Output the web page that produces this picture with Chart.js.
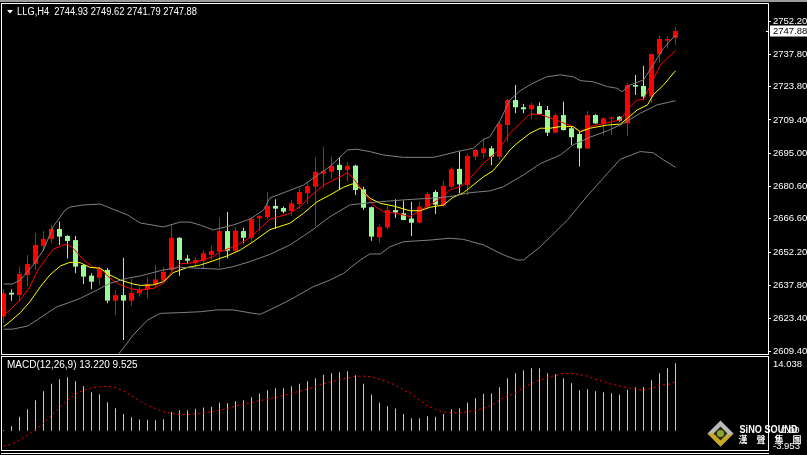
<!DOCTYPE html>
<html>
<head>
<meta charset="utf-8">
<script src="https://cdn.jsdelivr.net/npm/chart.js@4.4.1/dist/chart.umd.min.js"></script>
<style>
  html, body { margin: 0; padding: 0; background: #000; overflow: hidden; }
  #wrap { position: relative; width: 807px; height: 455px; background: #000; }
  canvas { position: absolute; left: 0; }
  #main { top: 0; }
  #macd { top: 355px; }
</style>
</head>
<body>
<div id="wrap">
  <canvas id="main" width="807" height="355"></canvas>
  <canvas id="macd" width="807" height="100"></canvas>
</div>
<script>
// LLG,H4 candles
const opens = [2624.3, 2634.6, 2633.6, 2642.3, 2647.1, 2654.9, 2657.9, 2662.2, 2659.2, 2657.4, 2646.6, 2642.0, 2641.1, 2644.5, 2631.2, 2633.6, 2631.2, 2634.4, 2636.1, 2638.0, 2639.8, 2644.5, 2658.4, 2649.4, 2647.4, 2648.5, 2651.0, 2652.4, 2661.3, 2652.8, 2661.3, 2658.4, 2666.8, 2667.3, 2672.2, 2671.3, 2670.0, 2673.0, 2677.7, 2680.5, 2686.1, 2687.0, 2690.0, 2687.7, 2689.6, 2679.4, 2671.6, 2658.6, 2662.9, 2670.4, 2669.0, 2666.7, 2664.9, 2671.9, 2678.2, 2672.2, 2680.5, 2688.2, 2681.2, 2693.5, 2695.0, 2697.1, 2693.5, 2707.2, 2718.0, 2714.9, 2714.0, 2715.4, 2713.7, 2703.9, 2711.5, 2705.8, 2703.3, 2697.0, 2711.5, 2707.6, 2710.0, 2710.8, 2707.9, 2724.5, 2724.1, 2719.5, 2737.8, 2743.7, 2744.93];
const highs = [2636.1, 2636.1, 2645.9, 2651.0, 2660.5, 2661.3, 2663.9, 2665.4, 2659.5, 2659.2, 2646.8, 2643.0, 2645.9, 2645.2, 2635.8, 2649.8, 2640.6, 2637.2, 2641.1, 2646.6, 2645.9, 2664.4, 2658.6, 2651.0, 2650.2, 2653.1, 2654.9, 2667.3, 2669.6, 2662.9, 2662.9, 2667.3, 2668.3, 2678.2, 2675.1, 2671.9, 2674.8, 2679.8, 2682.5, 2693.2, 2697.8, 2693.5, 2693.2, 2691.1, 2690.0, 2680.5, 2671.9, 2664.2, 2672.2, 2675.1, 2674.5, 2674.0, 2674.0, 2678.3, 2679.1, 2683.0, 2688.9, 2695.7, 2695.0, 2696.8, 2701.4, 2698.1, 2708.5, 2718.5, 2724.5, 2716.3, 2716.9, 2717.0, 2715.4, 2712.3, 2717.3, 2706.5, 2704.3, 2713.3, 2711.8, 2710.5, 2710.8, 2711.1, 2725.3, 2728.8, 2732.7, 2738.2, 2745.8, 2745.4, 2749.62];
const lows = [2621.4, 2631.1, 2630.7, 2637.5, 2644.5, 2652.7, 2656.1, 2655.3, 2649.4, 2643.0, 2638.4, 2636.1, 2638.0, 2630.1, 2625.0, 2614.2, 2629.0, 2632.9, 2632.2, 2637.2, 2639.4, 2643.7, 2642.0, 2647.1, 2645.9, 2644.8, 2648.8, 2645.6, 2649.5, 2652.4, 2656.0, 2656.7, 2661.3, 2666.4, 2662.3, 2669.0, 2667.8, 2671.0, 2673.0, 2663.5, 2679.8, 2684.1, 2679.4, 2682.7, 2676.9, 2670.4, 2657.1, 2656.3, 2662.1, 2667.0, 2666.0, 2659.2, 2664.7, 2671.2, 2668.7, 2671.6, 2679.8, 2677.7, 2676.8, 2692.1, 2692.8, 2689.8, 2692.1, 2700.0, 2712.3, 2712.3, 2709.7, 2711.5, 2702.4, 2703.6, 2704.8, 2698.6, 2689.2, 2696.8, 2707.6, 2702.9, 2702.9, 2708.6, 2702.4, 2720.2, 2718.0, 2716.6, 2734.2, 2740.4, 2741.79];
const closes = [2634.4, 2633.8, 2642.7, 2647.1, 2655.3, 2657.9, 2662.2, 2658.9, 2657.0, 2645.9, 2641.6, 2639.4, 2644.8, 2631.2, 2633.6, 2631.2, 2634.6, 2635.8, 2638.4, 2640.4, 2643.7, 2658.4, 2648.8, 2648.5, 2648.8, 2651.7, 2652.7, 2661.3, 2652.8, 2661.5, 2658.4, 2666.5, 2667.8, 2672.2, 2671.0, 2669.7, 2673.3, 2678.2, 2680.8, 2686.9, 2687.3, 2689.5, 2687.7, 2689.5, 2679.1, 2671.4, 2658.9, 2663.1, 2670.4, 2669.3, 2666.1, 2664.9, 2671.9, 2677.4, 2672.7, 2680.8, 2688.2, 2681.5, 2693.8, 2696.4, 2697.1, 2693.5, 2707.6, 2718.0, 2714.9, 2714.0, 2715.9, 2712.0, 2703.9, 2711.5, 2705.0, 2701.9, 2697.1, 2711.5, 2707.9, 2710.1, 2710.5, 2709.1, 2724.5, 2723.8, 2719.5, 2737.9, 2744.4, 2744.4, 2747.88];

// Bollinger bands (bar index, price)
const bbUpperX = [0, 1.1, 2.1, 3.7, 5.0, 6.2, 7.7, 8.3, 10.0, 12.1, 13.3, 15.5, 17.1, 20.0, 22.1, 23.3, 24.6, 26.2, 28.7, 30.8, 32.5, 33.3, 37.5, 40.8, 43.0, 44.2, 45.8, 47.5, 50.0, 53.7, 55.0, 56.7, 58.7, 60.0, 60.8, 62.1, 63.3, 64.6, 66.2, 67.9, 69.6, 71.2, 72.1, 73.7, 75.5, 76.7, 77.3, 78.3, 80.0, 81.2, 82.5, 84.0];
const bbUpper = [2638.4, 2638.4, 2640.1, 2646.6, 2653.1, 2663.2, 2670.4, 2671.7, 2672.6, 2673.0, 2671.3, 2668.3, 2664.8, 2663.1, 2665.2, 2665.2, 2663.9, 2661.8, 2663.9, 2666.5, 2670.4, 2675.6, 2681.2, 2689.2, 2696.4, 2696.7, 2695.7, 2694.2, 2693.2, 2693.2, 2694.2, 2695.7, 2697.1, 2701.0, 2702.1, 2709.4, 2718.0, 2722.1, 2725.3, 2728.1, 2728.9, 2728.1, 2726.4, 2725.9, 2723.8, 2723.1, 2721.6, 2724.5, 2726.7, 2733.2, 2740.4, 2746.1];
const bbMidX = [0, 1.2, 3.0, 4.2, 5.5, 6.7, 8.0, 9.6, 11.7, 13.3, 15.5, 17.1, 20.0, 22.1, 24.6, 27.1, 28.7, 30.8, 33.3, 35.8, 38.3, 40.8, 43.3, 45.8, 47.1, 50.0, 53.3, 55.8, 58.3, 60.8, 62.5, 65.0, 67.1, 69.6, 71.2, 73.3, 75.5, 77.5, 79.6, 81.7, 84.0];
const bbMid = [2618.8, 2618.9, 2620.2, 2622.8, 2625.9, 2628.6, 2630.1, 2632.2, 2635.8, 2638.7, 2640.9, 2641.9, 2644.5, 2645.6, 2645.2, 2644.8, 2645.9, 2648.1, 2651.2, 2655.3, 2661.0, 2667.5, 2672.6, 2673.6, 2674.0, 2674.8, 2675.5, 2676.2, 2677.9, 2678.7, 2680.5, 2685.6, 2690.5, 2694.2, 2698.6, 2701.9, 2704.7, 2707.9, 2712.3, 2715.9, 2717.7];
const bbLowX = [13.6, 14.8, 16.2, 18.0, 19.6, 22.1, 24.6, 26.7, 28.7, 31.2, 32.1, 33.3, 35.8, 38.7, 40.8, 42.5, 44.6, 45.8, 47.1, 48.3, 50.0, 53.3, 55.8, 57.5, 60.0, 62.5, 64.2, 65.0, 67.1, 70.5, 72.9, 75.5, 77.1, 79.6, 81.2, 82.5, 84.0];
const bbLow = [2604.5, 2609.9, 2616.3, 2622.8, 2625.7, 2626.0, 2626.4, 2627.2, 2627.2, 2625.7, 2625.3, 2627.2, 2631.5, 2637.2, 2640.1, 2643.0, 2648.8, 2651.4, 2651.4, 2654.5, 2656.7, 2657.4, 2658.2, 2657.7, 2655.3, 2651.0, 2648.8, 2648.8, 2654.5, 2666.1, 2676.2, 2686.3, 2692.4, 2695.7, 2695.2, 2692.1, 2688.9];

// moving averages (red = fast, yellow = slow)
const maFastX = [0, 0.8, 2.1, 3.3, 4.3, 5.5, 6.2, 7.5, 8.0, 8.7, 10.0, 11.2, 12.1, 13.3, 14.6, 16.2, 17.1, 18.7, 20.0, 21.2, 22.1, 23.7, 25.0, 26.2, 27.1, 28.3, 29.6, 30.8, 32.1, 33.3, 35.8, 37.1, 38.3, 40.0, 41.7, 43.0, 43.7, 45.0, 46.2, 47.5, 49.2, 50.8, 52.1, 53.3, 54.6, 55.8, 57.1, 58.3, 60.0, 61.7, 63.3, 64.6, 65.8, 67.1, 67.9, 69.6, 71.2, 72.1, 73.3, 75.5, 77.1, 78.3, 79.2, 80.0, 81.2, 82.1, 83.0, 84.0];
const maFast = [2624.9, 2627.2, 2631.5, 2637.2, 2644.5, 2650.2, 2653.4, 2655.3, 2655.6, 2653.9, 2648.8, 2645.6, 2645.2, 2640.9, 2638.0, 2636.1, 2635.8, 2636.5, 2638.7, 2644.5, 2647.1, 2647.6, 2648.8, 2650.2, 2652.4, 2653.9, 2656.0, 2658.4, 2662.5, 2666.4, 2669.0, 2671.9, 2676.2, 2681.2, 2684.1, 2686.6, 2684.1, 2678.4, 2672.6, 2669.7, 2669.0, 2667.5, 2670.4, 2672.6, 2675.5, 2679.1, 2680.5, 2684.1, 2690.6, 2695.7, 2703.6, 2707.9, 2712.0, 2711.7, 2710.8, 2708.6, 2706.5, 2704.3, 2706.5, 2708.2, 2709.4, 2715.1, 2718.0, 2718.3, 2726.7, 2733.2, 2736.1, 2739.4];
const maSlowX = [0, 0.8, 2.1, 3.3, 4.6, 5.8, 7.1, 8.3, 9.6, 10.8, 12.1, 13.3, 14.6, 16.2, 17.1, 18.7, 20.0, 21.2, 23.0, 24.6, 26.2, 27.9, 29.6, 31.2, 33.3, 35.8, 37.5, 39.2, 40.8, 42.5, 43.6, 44.6, 45.8, 47.1, 48.7, 50.8, 52.1, 53.3, 55.0, 56.2, 57.5, 58.7, 60.0, 61.2, 62.5, 63.3, 64.2, 65.8, 67.1, 68.3, 69.6, 71.2, 72.1, 73.3, 75.5, 77.1, 78.0, 79.2, 80.5, 81.2, 82.5, 84.0];
const maSlow = [2619.9, 2622.1, 2626.0, 2630.7, 2637.2, 2642.3, 2646.2, 2647.8, 2647.6, 2645.6, 2645.2, 2642.3, 2640.1, 2638.4, 2637.8, 2638.0, 2639.4, 2643.3, 2645.6, 2646.6, 2648.4, 2650.5, 2653.1, 2656.7, 2661.9, 2664.7, 2669.0, 2674.0, 2676.9, 2680.3, 2681.7, 2679.8, 2675.5, 2673.3, 2672.2, 2670.1, 2670.1, 2671.6, 2672.6, 2675.9, 2677.9, 2681.2, 2684.8, 2687.4, 2692.8, 2696.4, 2699.3, 2703.6, 2705.8, 2705.8, 2706.5, 2706.5, 2704.3, 2705.8, 2707.2, 2707.6, 2710.1, 2713.7, 2715.9, 2720.2, 2724.5, 2730.7];

// MACD(12,26,9)
const macdHist = [0.13, 0.91, 2.73, 4.23, 5.99, 7.75, 9.18, 10.09, 10.48, 9.70, 8.72, 7.55, 7.16, 5.60, 4.43, 3.26, 2.67, 2.21, 2.15, 2.08, 2.28, 3.65, 4.04, 4.04, 4.30, 4.56, 4.69, 5.47, 5.40, 5.79, 5.99, 6.58, 7.29, 7.94, 8.33, 8.33, 8.72, 9.18, 9.70, 10.29, 10.94, 11.26, 11.46, 11.65, 10.87, 9.18, 7.03, 5.47, 4.82, 4.36, 3.26, 2.47, 2.47, 2.86, 2.73, 3.26, 4.23, 4.43, 5.47, 6.38, 7.23, 7.29, 8.53, 10.29, 11.26, 11.85, 12.24, 12.24, 11.26, 11.07, 10.29, 9.31, 7.94, 8.14, 7.75, 7.55, 7.36, 7.03, 8.01, 8.53, 8.53, 9.90, 11.26, 12.24, 13.22];
const macdSignal = [-3.0, -2.67, -1.82, -0.85, 0.26, 1.43, 3.06, 4.56, 5.99, 7.16, 7.94, 8.40, 8.59, 8.72, 8.46, 7.81, 6.84, 5.86, 5.01, 4.36, 3.71, 3.39, 3.19, 3.19, 3.32, 3.52, 3.71, 4.04, 4.36, 4.82, 5.21, 5.53, 5.92, 6.12, 6.51, 6.90, 7.29, 7.75, 8.14, 8.66, 9.24, 9.57, 9.96, 10.35, 10.68, 10.68, 10.55, 10.09, 9.57, 8.92, 7.94, 7.29, 5.99, 4.82, 4.17, 3.65, 3.52, 3.52, 3.71, 4.04, 4.36, 5.01, 5.99, 6.77, 7.42, 8.40, 9.24, 9.90, 10.35, 10.87, 11.20, 11.20, 11.0, 10.68, 10.09, 9.57, 9.11, 8.79, 8.40, 8.14, 7.94, 8.27, 8.92, 9.05, 9.525];

const priceTicks = [2752.2, 2737.8, 2723.8, 2709.4, 2695.0, 2680.6, 2666.6, 2652.2, 2637.8, 2623.4, 2609.4];
const macdTicks = [14.038, 0, -3.953];

const UP = "#ff0000";
const DOWN = "#98fb98";
const BAND = "#808080";
const FONT = "Liberation Sans";

const last = opens.length - 1;
const idx = opens.map((_, i) => i);
const candleColors = idx.map((i) => (closes[i] >= opens[i] ? UP : DOWN));
const pts = (xs, ys) => xs.map((x, i) => ({ x: x, y: ys[i] }));

Chart.defaults.font.family = FONT;

const xAxis = {
  type: "linear",
  min: -0.1875,
  max: 95.5625,
  offset: false,
  display: false,
};

// keep the plot area edge to edge, labels may run past it
function fixedAxis(s) {
  s.width = 39;
  s.paddingTop = 0;
  s.paddingBottom = 0;
}

function line(data, color, order) {
  return {
    type: "line",
    data: data,
    borderColor: color,
    borderWidth: 1,
    pointRadius: 0,
    tension: 0,
    order: order,
  };
}

const mainFrame = {
  id: "mainFrame",
  afterDraw(chart) {
    const { ctx, chartArea: a } = chart;
    const y = chart.scales.y;
    ctx.save();
    ctx.fillStyle = "#9c9c9c";
    ctx.fillRect(0, 0, chart.width, 2);
    ctx.strokeStyle = "#fff";
    ctx.lineWidth = 1;
    ctx.strokeRect(a.left - 0.5, a.top - 0.5, a.right - a.left + 1, a.bottom - a.top + 1);

    // title
    ctx.fillStyle = "#fff";
    ctx.beginPath();
    ctx.moveTo(7, 10);
    ctx.lineTo(13, 10);
    ctx.lineTo(10, 13.5);
    ctx.closePath();
    ctx.fill();
    ctx.font = "10px " + FONT;
    ctx.textBaseline = "middle";
    const title = "LLG,H4  " + [opens[last], highs[last], lows[last], closes[last]].map((v) => v.toFixed(2)).join(" ");
    ctx.fillText(title, 17, 12, 180);

    // current price box
    const py = Math.round(y.getPixelForValue(closes[last]));
    ctx.fillStyle = "#fff";
    ctx.fillRect(770, py - 5.5, 37, 11);
    ctx.fillRect(766, py, 3, 1);
    ctx.fillStyle = "#000";
    ctx.font = "9.5px " + FONT;
    ctx.fillText(closes[last].toFixed(2), 773, py + 0.5);
    ctx.restore();
  },
};

new Chart(document.getElementById("main"), {
  type: "bar",
  data: {
    datasets: [
      line(pts(bbUpperX, bbUpper), BAND, 0),
      line(pts(bbMidX, bbMid), BAND, 0),
      line(pts(bbLowX, bbLow), BAND, 0),
      line(pts(maSlowX, maSlow), "#ffff00", 0),
      line(pts(maFastX, maFast), "#ff0000", 0),
      {
        type: "bar",
        data: idx.map((i) => ({ x: i, y: [opens[i], closes[i]] })),
        backgroundColor: candleColors,
        barThickness: 5,
        minBarLength: 1,
        grouped: false,
        inflateAmount: 0,
        order: 1,
      },
      {
        type: "bar",
        data: idx.map((i) => ({ x: i, y: [lows[i], highs[i]] })),
        backgroundColor: candleColors,
        barThickness: 1,
        grouped: false,
        inflateAmount: 0,
        order: 2,
      },
    ],
  },
  options: {
    responsive: false,
    animation: false,
    devicePixelRatio: 1,
    layout: { padding: { left: 2, top: 4, right: 0, bottom: 1 } },
    scales: {
      x: xAxis,
      y: {
        position: "right",
        min: 2608.11,
        max: 2759.56,
        beginAtZero: false,
        afterFit: fixedAxis,
        afterBuildTicks: (s) => { s.ticks = priceTicks.map((v) => ({ value: v })); },
        ticks: {
          color: "#fff",
          font: { size: 9.5 },
          padding: 2,
          autoSkip: false,
          callback: (v) => Number(v).toFixed(2),
        },
        grid: { drawOnChartArea: false, color: "#fff", tickLength: 3 },
        border: { display: false },
      },
    },
    plugins: { legend: { display: false }, tooltip: { enabled: false } },
  },
  plugins: [mainFrame],
});

function drawLogo(ctx, cx, cy) {
  const r = 13;
  ctx.beginPath();
  ctx.moveTo(cx, cy - r); ctx.lineTo(cx + r, cy); ctx.lineTo(cx, cy + r); ctx.lineTo(cx - r, cy);
  ctx.closePath();
  ctx.fillStyle = "#b9b9b9";
  ctx.fill();
  ctx.beginPath();
  ctx.moveTo(cx - r, cy); ctx.lineTo(cx, cy + r); ctx.lineTo(cx + r, cy); ctx.lineTo(cx, cy + 4); ctx.lineTo(cx - 4, cy);
  ctx.closePath();
  ctx.fillStyle = "#c8a820";
  ctx.fill();
  ctx.beginPath();
  ctx.moveTo(cx, cy - 7); ctx.lineTo(cx + 7, cy); ctx.lineTo(cx, cy + 7); ctx.lineTo(cx - 7, cy);
  ctx.closePath();
  ctx.fillStyle = "#2a2a10";
  ctx.fill();
  ctx.beginPath();
  ctx.arc(cx, cy, 3.5, 0, Math.PI * 2);
  ctx.fillStyle = "#8aa828";
  ctx.fill();

  ctx.fillStyle = "#fff";
  ctx.textBaseline = "alphabetic";
  ctx.font = "bold 11px " + FONT;
  ctx.fillText("SiNO SOUND", cx + 19, cy - 1, 58);
  ctx.font = "bold 9px 'Noto Sans CJK TC'";
  ["漢", "聲", "集", "團"].forEach((ch, i) => ctx.fillText(ch, cx + 18 + i * 18, cy + 9));
}

const macdFrame = {
  id: "macdFrame",
  afterDraw(chart) {
    const { ctx, chartArea: a } = chart;
    const y = chart.scales.y;
    ctx.save();
    ctx.strokeStyle = "#fff";
    ctx.lineWidth = 1;
    ctx.strokeRect(1.5, 1.5, a.right - 1, 94);
    ctx.beginPath();
    ctx.moveTo(1, 98.5);
    ctx.lineTo(a.right + 1, 98.5);
    ctx.stroke();

    ctx.fillStyle = "#fff";
    ctx.font = "10px " + FONT;
    ctx.textBaseline = "middle";
    ctx.fillText("MACD(12,26,9) " + macdHist[last].toFixed(3) + " " + macdSignal[last].toFixed(3), 7, 10.5);

    ctx.font = "9.5px " + FONT;
    ctx.fillText(macdTicks[0].toFixed(3), 773, y.getPixelForValue(macdTicks[0]) + 5);
    ctx.fillText(macdTicks[1].toFixed(2), 781, y.getPixelForValue(macdTicks[1]));
    ctx.fillText(macdTicks[2].toFixed(3), 773, y.getPixelForValue(macdTicks[2]) - 5);

    drawLogo(ctx, 720.5, 78.5);
    ctx.restore();
  },
};

new Chart(document.getElementById("macd"), {
  type: "bar",
  data: {
    datasets: [
      {
        type: "line",
        data: idx.map((i) => ({ x: i, y: macdSignal[i] })),
        borderColor: "#ff0000",
        borderWidth: 1,
        borderDash: [2, 3],
        pointRadius: 0,
        order: 0,
      },
      {
        type: "bar",
        data: idx.map((i) => ({ x: i, y: macdHist[i] })),
        backgroundColor: "#c8c8c8",
        barThickness: 1,
        grouped: false,
        inflateAmount: 0,
        order: 1,
      },
    ],
  },
  options: {
    responsive: false,
    animation: false,
    devicePixelRatio: 1,
    layout: { padding: { left: 2, top: 4, right: 0, bottom: 4 } },
    scales: {
      x: xAxis,
      y: {
        position: "right",
        min: macdTicks[2],
        max: macdTicks[0],
        beginAtZero: false,
        afterFit: fixedAxis,
        ticks: { display: false },
        grid: { display: false },
        border: { display: false },
      },
    },
    plugins: { legend: { display: false }, tooltip: { enabled: false } },
  },
  plugins: [macdFrame],
});
</script>
</body>
</html>
